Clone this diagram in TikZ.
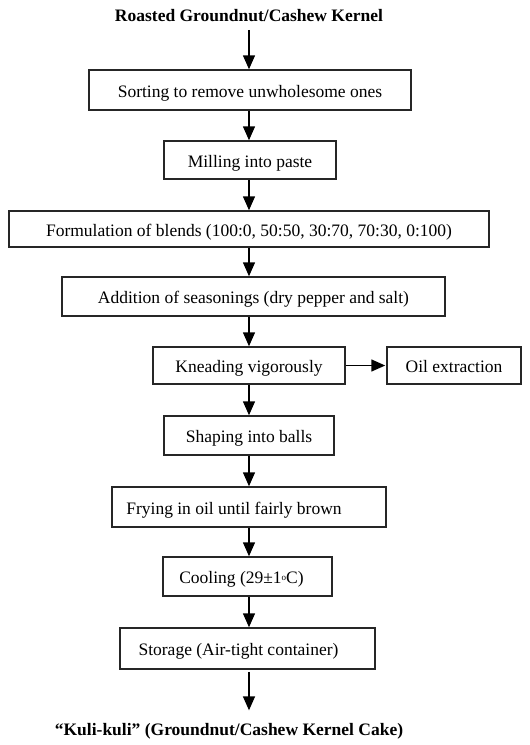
\documentclass[tikz,border=0pt]{standalone}
\usepackage{fontspec}
\setmainfont{Liberation Serif}
\usetikzlibrary{arrows.meta}

\begin{document}
\begin{tikzpicture}[x=1pt, y=-1pt, line width=1.5pt,
  >={Triangle[length=14pt, width=12pt]},
  box/.style={draw=black!85, line width=1.5pt, inner sep=0pt, align=center,
    text height=14pt, text depth=0pt, font=\fontsize{17.5}{21}\selectfont},
  label/.style={font=\fontsize{17.5}{21}\selectfont\bfseries, inner sep=2pt},
  flow/.style={->, black}]

% Page frame
\useasboundingbox (0,0) rectangle (530,745);
\coordinate (axis) at (249,0);

% Start and end products
\node[label] (kernel) at (249,16) {Roasted Groundnut/Cashew Kernel};
\node[label] (cake) at (229,731) {``Kuli-kuli'' (Groundnut/Cashew Kernel Cake)};

% Process steps
\node[box, minimum width=322pt, minimum height=40pt] (sort) at (250,90)
  {Sorting to remove unwholesome ones};
\node[box, minimum width=172pt, minimum height=38pt] (mill) at (250,160)
  {Milling into paste};
\node[box, minimum width=480pt, minimum height=36pt] (blend) at (249,229)
  {Formulation of blends (100:0, 50:50, 30:70, 70:30, 0:100)};
\node[box, minimum width=383pt, minimum height=39pt] (season) at (253.5,296.5)
  {Addition of seasonings (dry pepper and salt)};
\node[box, minimum width=192pt, minimum height=37pt] (knead) at (249,365.5)
  {Kneading vigorously};
\node[box, minimum width=134pt, minimum height=37pt] (oil) at (454,365.5)
  {Oil extraction};
\node[box, minimum width=170pt, minimum height=39pt] (shape) at (249,435.5)
  {Shaping into balls};
\node[box, minimum width=274pt, minimum height=40pt] (fry) at (249,507)
  {Frying in oil until fairly brown\hspace{30pt}};
\node[box, minimum width=169pt, minimum height=39pt] (cool) at (247.5,576.5)
  {Cooling (29±1\raisebox{0.35ex}{\fontsize{9}{9}\selectfont o}C)\hspace{12pt}};
\node[box, minimum width=255pt, minimum height=41pt] (store) at (247.5,648.5)
  {Storage (Air-tight container)\hspace{18pt}};

% Main flow
\draw[flow, shorten <=5pt] (kernel.south -| axis) -- (sort.north -| axis);
\foreach \a/\b in {sort/mill, mill/blend, blend/season, season/knead,
                   knead/shape, shape/fry, fry/cool, cool/store} {
  \draw[flow] (\a.south -| axis) -- (\b.north -| axis);
}
\draw[flow, shorten <=2pt, shorten >=10pt] (store.south -| axis) -- (cake.north -| axis);

% Side branch
\draw[flow, shorten >=1pt] (knead.east) -- (oil.west);

\end{tikzpicture}
\end{document}
